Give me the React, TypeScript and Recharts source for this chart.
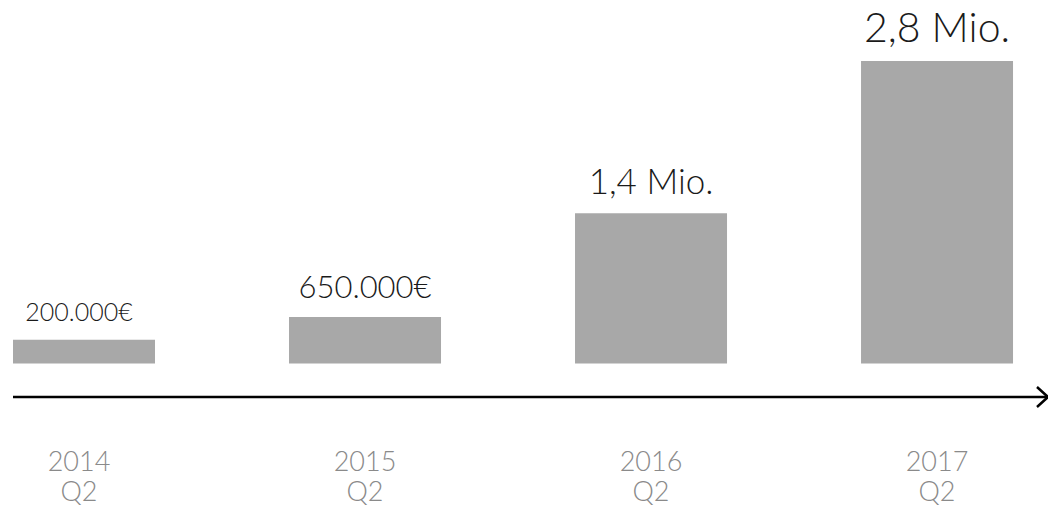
import React from "react";
import { BarChart, Bar, XAxis, YAxis, LabelList } from "recharts";

// bar heights (in Mio. €), plus the printed labels
const years = ["2014", "2015", "2016", "2017"];
const quarters = ["Q2", "Q2", "Q2", "Q2"];
const revenue = [0.22, 0.43, 1.39, 2.8];
const revenueLabels = ["200.000€", "650.000€", "1,4 Mio.", "2,8 Mio."];

const labelFontSizes = [25, 31, 35, 41];
const FONT = "Lato, 'Noto Sans', sans-serif";

const data = years.map((year, i) => ({
  idx: i,
  year,
  quarter: quarters[i],
  revenue: revenue[i],
  label: revenueLabels[i],
}));

const YearTick = (props: any) => {
  const { x, y, payload } = props;
  const row = data[payload.value];
  if (!row) return null;
  return (
    <g>
      <text x={x} y={y} dy={74} textAnchor="middle" fill="#8a8a8a" fontSize={27} fontWeight={300} fontFamily={FONT}>
        {row.year}
      </text>
      <text x={x} y={y} dy={104} textAnchor="middle" fill="#8a8a8a" fontSize={27} fontWeight={300} fontFamily={FONT}>
        {row.quarter}
      </text>
    </g>
  );
};

const ValueLabel = (props: any) => {
  const { x, y, width, index } = props;
  return (
    <text
      x={x + width / 2}
      y={y - 19}
      textAnchor="middle"
      fill="#1a1a1a"
      fontSize={labelFontSizes[index]}
      fontWeight={300}
      fontFamily={FONT}
    >
      {revenueLabels[index]}
    </text>
  );
};

export default function App() {
  return (
    <div style={{ position: "absolute", left: 0, top: 0, background: "#fff" }}>
      <BarChart width={1048} height={506} data={data} margin={{ top: 61, right: 0, bottom: 0, left: 13 }}>
        <defs>
          <marker
            id="axisArrow"
            markerUnits="userSpaceOnUse"
            markerWidth={16}
            markerHeight={26}
            viewBox="0 0 16 26"
            refX={13}
            refY={13}
            orient="auto"
          >
            <path d="M2,3 L13,13 L2,23" fill="none" stroke="#000" strokeWidth={2.5} />
          </marker>
        </defs>
        <XAxis
          type="number"
          dataKey="idx"
          domain={[-0.2308, 3.388]}
          allowDataOverflow
          ticks={[0, 1, 2, 3]}
          interval={0}
          height={109}
          tickSize={0}
          tickMargin={0}
          tickLine={false}
          tick={<YearTick />}
          axisLine={{ stroke: "#000", strokeWidth: 2.5, markerEnd: "url(#axisArrow)" }}
        />
        <YAxis hide type="number" domain={[-0.311, 2.8]} allowDataOverflow />
        <Bar dataKey="revenue" fill="#a8a8a8" barSize={152} isAnimationActive={false}>
          <LabelList dataKey="label" content={<ValueLabel />} />
        </Bar>
      </BarChart>
    </div>
  );
}
